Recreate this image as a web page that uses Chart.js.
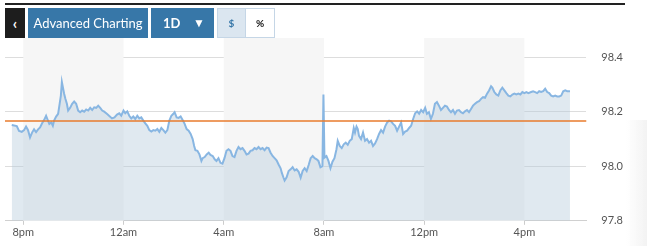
<!DOCTYPE html>
<html>
<head>
<meta charset="utf-8">
<script src="https://cdn.jsdelivr.net/npm/chart.js@4/dist/chart.umd.min.js"></script>
<style>
  html, body { margin: 0; padding: 0; background: #fff; }
  body { width: 647px; height: 246px; position: relative; overflow: hidden; font-family: Lato, "Open Sans", sans-serif; }
  #wrap { position: absolute; left: 0; top: 0; width: 647px; height: 246px; }
  .topbar { position: absolute; left: 5px; top: 3px; width: 620px; height: 2px; background: #222; }
  .btn { position: absolute; top: 8px; height: 30px; line-height: 30px; color: #fff; font-size: 13px; box-sizing: border-box; }
  .back { left: 5px; width: 20px; background: #1d1d1d; text-align: center; font-weight: bold; font-size: 15px; }
  .adv { left: 28px; width: 120px; background: #3777a8; text-align: center; }
  .period { left: 151px; width: 63px; background: #3777a8; font-weight: bold; padding-left: 12px; }
  .period .arr { position: absolute; left: 42px; top: 0; font-size: 12px; }
  .tog { position: absolute; top: 8px; height: 30px; line-height: 28px; width: 29px; box-sizing: border-box; border: 1px solid #c5d6e6; text-align: center; font-size: 10px; font-weight: bold; }
  .usd { left: 217px; background: #dbe6f0; color: #3777a8; }
  .pct { left: 246px; background: #fff; color: #111; border-left: none; }
  .shade { position: absolute; left: 626px; top: 120px; width: 21px; height: 126px; background: linear-gradient(to right, rgba(255,255,255,0), #f3f3f3); }
</style>
</head>
<body>
<div id="wrap"><canvas id="c" width="647" height="246"></canvas></div>
<div class="shade"></div>
<div class="topbar"></div>
<div class="btn back">&lsaquo;</div>
<div class="btn adv">Advanced Charting</div>
<div class="btn period">1D<span class="arr">&#9660;</span></div>
<div class="tog usd">$</div>
<div class="tog pct">%</div>
<script>
// hours after 8pm
const hours = [-0.46,-0.26,-0.17,-0.06,0.03,0.11,0.19,0.27,0.35,0.43,0.51,0.59,0.67,0.75,0.83,0.91,0.96,1.04,1.12,1.18,1.23,1.31,1.39,1.44,1.50,1.54,1.58,1.63,1.68,1.74,1.79,1.87,1.95,2.03,2.11,2.19,2.27,2.35,2.43,2.51,2.59,2.67,2.75,2.83,2.91,2.99,3.07,3.15,3.23,3.31,3.39,3.54,3.64,3.74,3.83,3.91,4.00,4.07,4.15,4.23,4.31,4.39,4.47,4.55,4.63,4.71,4.79,4.87,4.95,5.03,5.11,5.19,5.27,5.35,5.43,5.51,5.59,5.67,5.75,5.83,5.91,5.99,6.04,6.12,6.20,6.28,6.36,6.44,6.52,6.60,6.68,6.76,6.82,6.87,6.95,7.03,7.11,7.16,7.24,7.32,7.40,7.47,7.56,7.64,7.71,7.79,7.87,7.95,8.03,8.11,8.19,8.27,8.35,8.43,8.51,8.59,8.67,8.75,8.83,8.91,8.99,9.07,9.15,9.23,9.31,9.39,9.47,9.55,9.63,9.71,9.79,9.87,9.95,10.03,10.11,10.19,10.27,10.32,10.38,10.43,10.51,10.59,10.67,10.75,10.83,10.91,10.99,11.07,11.15,11.23,11.31,11.39,11.47,11.55,11.63,11.71,11.78,11.86,11.94,11.98,12.02,12.10,12.18,12.26,12.34,12.42,12.50,12.55,12.63,12.71,12.79,12.87,12.95,13.03,13.11,13.19,13.24,13.30,13.35,13.40,13.48,13.56,13.64,13.72,13.80,13.88,13.96,14.04,14.12,14.20,14.28,14.36,14.44,14.52,14.60,14.68,14.76,14.84,14.92,15.00,15.08,15.16,15.24,15.32,15.40,15.48,15.56,15.64,15.72,15.80,15.88,15.96,16.04,16.11,16.19,16.27,16.35,16.43,16.51,16.59,16.67,16.75,16.83,16.91,16.99,17.07,17.15,17.23,17.31,17.39,17.47,17.55,17.63,17.71,17.79,17.87,17.95,18.03,18.11,18.19,18.27,18.35,18.43,18.51,18.59,18.67,18.72,18.80,18.88,18.96,19.04,19.12,19.20,19.28,19.36,19.44,19.52,19.60,19.68,19.76,19.84,19.92,20.00,20.08,20.16,20.27,20.35,20.43,20.51,20.59,20.67,20.75,20.83,20.91,20.99,21.07,21.15,21.23,21.31,21.39,21.47,21.55,21.63,21.71,21.82];
const prices = [98.152,98.148,98.130,98.127,98.133,98.146,98.133,98.106,98.124,98.136,98.126,98.136,98.143,98.158,98.170,98.186,98.174,98.156,98.161,98.149,98.168,98.183,98.193,98.223,98.260,98.310,98.291,98.267,98.248,98.230,98.205,98.215,98.230,98.238,98.230,98.205,98.199,98.205,98.201,98.209,98.205,98.215,98.207,98.217,98.215,98.223,98.215,98.205,98.201,98.195,98.189,98.176,98.180,98.190,98.195,98.186,98.205,98.195,98.202,98.186,98.176,98.183,98.174,98.186,98.176,98.180,98.168,98.158,98.149,98.133,98.128,98.133,98.131,98.137,98.127,98.141,98.133,98.124,98.133,98.168,98.186,98.193,98.199,98.180,98.178,98.183,98.170,98.156,98.137,98.131,98.119,98.100,98.075,98.059,98.057,98.044,98.020,98.030,98.034,98.044,98.050,98.042,98.038,98.026,98.020,98.030,98.013,98.010,98.030,98.057,98.063,98.057,98.038,98.034,98.057,98.071,98.063,98.067,98.057,98.044,98.047,98.057,98.059,98.067,98.063,98.071,98.063,98.067,98.059,98.069,98.067,98.050,98.038,98.030,98.022,98.007,97.993,97.976,97.960,97.948,97.960,97.983,97.989,97.997,97.985,97.989,97.980,97.958,97.983,97.993,97.983,98.005,98.030,98.038,98.030,98.026,98.020,97.997,98.001,98.264,98.032,98.038,98.020,97.993,98.017,98.030,98.063,98.094,98.075,98.067,98.081,98.087,98.079,98.094,98.100,98.141,98.124,98.146,98.137,98.112,98.100,98.124,98.094,98.100,98.087,98.094,98.075,98.084,98.100,98.119,98.133,98.124,98.146,98.161,98.168,98.165,98.156,98.149,98.131,98.146,98.161,98.119,98.128,98.131,98.141,98.149,98.174,98.195,98.202,98.193,98.207,98.199,98.215,98.193,98.199,98.174,98.193,98.230,98.236,98.223,98.207,98.215,98.223,98.220,98.207,98.199,98.207,98.193,98.205,98.207,98.199,98.195,98.202,98.207,98.199,98.211,98.223,98.230,98.236,98.239,98.248,98.254,98.252,98.267,98.279,98.294,98.289,98.273,98.264,98.260,98.279,98.289,98.279,98.269,98.260,98.257,98.264,98.267,98.264,98.267,98.264,98.273,98.269,98.273,98.269,98.273,98.276,98.273,98.269,98.276,98.273,98.276,98.285,98.273,98.269,98.260,98.257,98.260,98.257,98.257,98.260,98.276,98.279,98.276,98.276];
const previousClose = 98.167;
const xTickHours = [0, 4, 8, 12, 16, 20];
const xTickLabels = ['8pm', '12am', '4am', '8am', '12pm', '4pm'];
const yTickValues = [97.8, 98.0, 98.2, 98.4];
const shadedPeriods = [[0, 4], [8, 12], [16, 20]];

const points = hours.map((h, i) => ({ x: h, y: prices[i] }));

const bandsPlugin = {
  id: 'bands',
  beforeDatasetsDraw(chart) {
    const { ctx, chartArea, scales } = chart;
    ctx.save();
    ctx.fillStyle = '#f6f6f6';
    shadedPeriods.forEach(([a, b]) => {
      const x1 = scales.x.getPixelForValue(a);
      const x2 = scales.x.getPixelForValue(b);
      ctx.fillRect(x1, chartArea.top, x2 - x1, chartArea.bottom - chartArea.top);
    });
    ctx.restore();
  },
  afterDatasetsDraw(chart) {
    const { ctx, chartArea, scales } = chart;
    const y = scales.y.getPixelForValue(previousClose);
    ctx.save();
    ctx.strokeStyle = '#e87b2c';
    ctx.lineWidth = 1.5;
    ctx.beginPath();
    ctx.moveTo(chartArea.left, y);
    ctx.lineTo(chartArea.right, y);
    ctx.stroke();
    ctx.restore();
  }
};

new Chart(document.getElementById('c'), {
  type: 'line',
  data: {
    datasets: [{
      data: points,
      borderColor: '#88b6e2',
      borderWidth: 2,
      backgroundColor: 'rgba(180,202,220,0.42)',
      fill: 'start',
      pointRadius: 0,
      tension: 0
    }]
  },
  options: {
    responsive: false,
    animation: false,
    devicePixelRatio: 1,
    layout: { padding: { left: 5, top: 38, right: 9, bottom: 6 } },
    plugins: { legend: { display: false }, tooltip: { enabled: false } },
    scales: {
      x: {
        type: 'linear',
        min: -0.73,
        max: 22.47,
        afterBuildTicks(scale) { scale.ticks = xTickHours.map(v => ({ value: v })); },
        ticks: {
          callback(v) { const i = xTickHours.indexOf(v); return i >= 0 ? xTickLabels[i] : ''; },
          color: '#555',
          font: { family: 'Lato', size: 11 },
          padding: 1,
          maxRotation: 0,
          autoSkip: false
        },
        grid: { drawOnChartArea: false, drawTicks: true, tickLength: 4, color: '#cccccc' },
        border: { display: true, color: '#d0d0d0' }
      },
      y: {
        position: 'right',
        min: 97.8,
        max: 98.4715,
        afterBuildTicks(scale) { scale.ticks = yTickValues.map(v => ({ value: v })); },
        ticks: {
          callback(v) { return v.toFixed(1); },
          color: '#555',
          font: { family: 'Lato', size: 11 },
          padding: 15
        },
        grid: { drawTicks: false, color: '#dddddd' },
        border: { display: false }
      }
    }
  },
  plugins: [bandsPlugin]
});
</script>
</body>
</html>
